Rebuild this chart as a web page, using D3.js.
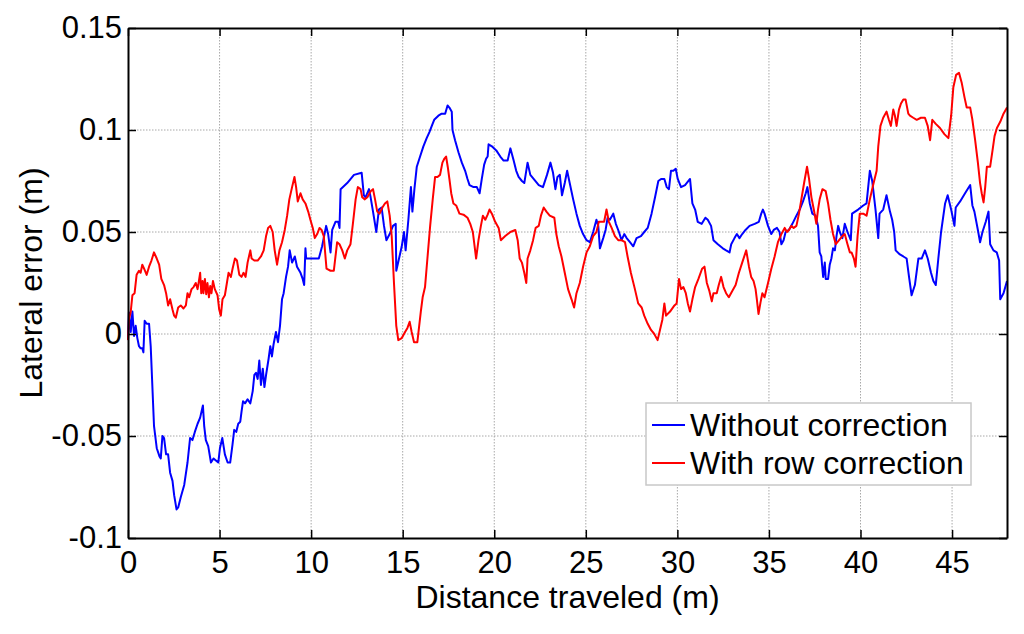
<!DOCTYPE html>
<html>
<head>
<meta charset="utf-8">
<script src="https://cdn.jsdelivr.net/npm/d3@7"></script>
<style>
  body { margin: 0; background: #fff; }
  svg text { font-family: "Liberation Sans", Arial, sans-serif; fill: #000; }
</style>
</head>
<body>
<div id="chart"></div>
<script>
// === Data: [distance (m), lateral error (m)] ===
const withoutCorrection = [[0,-0.003],[0.05,0.0106],[0.15,0.001],[0.24,0.011],[0.33,-0.001],[0.42,0.004],[0.51,-0.002],[0.6,-0.006],[0.69,-0.007],[0.78,-0.007],[0.84,-0.009],[0.91,0.0065],[1.02,0.005],[1.15,0.005],[1.24,-0.006],[1.42,-0.045],[1.57,-0.056],[1.72,-0.06],[1.79,-0.061],[1.88,-0.05],[1.97,-0.051],[2.08,-0.059],[2.19,-0.059],[2.3,-0.068],[2.43,-0.072],[2.52,-0.079],[2.65,-0.086],[2.74,-0.085],[2.88,-0.08],[3.07,-0.074],[3.25,-0.063],[3.39,-0.051],[3.52,-0.052],[3.65,-0.048],[3.8,-0.044],[3.94,-0.041],[4.09,-0.035],[4.16,-0.045],[4.25,-0.052],[4.38,-0.055],[4.53,-0.063],[4.67,-0.061],[4.8,-0.062],[4.93,-0.063],[5.02,-0.056],[5.15,-0.051],[5.29,-0.059],[5.44,-0.063],[5.58,-0.063],[5.71,-0.054],[5.8,-0.047],[5.91,-0.048],[6.02,-0.044],[6.13,-0.043],[6.2,-0.038],[6.28,-0.033],[6.39,-0.034],[6.53,-0.032],[6.68,-0.034],[6.81,-0.028],[6.9,-0.02],[6.99,-0.019],[7.08,-0.022],[7.17,-0.013],[7.26,-0.025],[7.36,-0.017],[7.45,-0.026],[7.54,-0.02],[7.68,-0.012],[7.77,-0.006],[7.86,-0.011],[7.95,-0.005],[8.08,0.001],[8.19,-0.004],[8.3,0.004],[8.41,0.017],[8.5,0.02],[8.63,0.028],[8.74,0.033],[8.83,0.041],[8.96,0.035],[9.11,0.038],[9.23,0.033],[9.42,0.03],[9.54,0.027],[9.62,0.024],[9.69,0.042],[9.73,0.037],[10.05,0.037],[10.42,0.037],[10.6,0.043],[10.82,0.053],[10.93,0.049],[11.06,0.04],[11.15,0.051],[11.33,0.055],[11.48,0.055],[11.55,0.052],[11.61,0.071],[11.97,0.074],[12.34,0.078],[12.76,0.079],[12.88,0.068],[12.97,0.067],[13.16,0.071],[13.25,0.067],[13.38,0.06],[13.56,0.05],[13.7,0.061],[13.85,0.062],[13.98,0.053],[14.11,0.046],[14.29,0.049],[14.47,0.053],[14.62,0.054],[14.65,0.031],[14.8,0.037],[14.95,0.043],[15.07,0.05],[15.16,0.041],[15.31,0.056],[15.45,0.072],[15.53,0.06],[15.64,0.071],[15.77,0.082],[15.95,0.087],[16.13,0.092],[16.31,0.096],[16.46,0.099],[16.59,0.102],[16.72,0.105],[16.95,0.107],[17.13,0.108],[17.32,0.108],[17.45,0.112],[17.55,0.111],[17.68,0.109],[17.72,0.1],[17.86,0.095],[18.05,0.089],[18.23,0.084],[18.41,0.08],[18.54,0.076],[18.65,0.073],[18.87,0.072],[19.05,0.072],[19.2,0.069],[19.32,0.076],[19.45,0.083],[19.56,0.086],[19.64,0.087],[19.69,0.093],[19.87,0.092],[20.11,0.09],[20.33,0.087],[20.51,0.085],[20.73,0.085],[20.88,0.091],[21.06,0.085],[21.2,0.08],[21.33,0.077],[21.51,0.075],[21.64,0.074],[21.82,0.084],[21.97,0.078],[22.15,0.076],[22.43,0.073],[22.66,0.072],[22.88,0.078],[23.07,0.084],[23.21,0.079],[23.34,0.071],[23.45,0.077],[23.58,0.078],[23.7,0.068],[23.85,0.074],[23.98,0.08],[24.12,0.074],[24.31,0.066],[24.49,0.059],[24.67,0.053],[24.85,0.049],[25.04,0.046],[25.22,0.045],[25.4,0.05],[25.58,0.056],[25.68,0.053],[25.77,0.042],[25.95,0.047],[26.08,0.051],[26.19,0.057],[26.31,0.056],[26.5,0.059],[26.64,0.054],[26.81,0.05],[26.95,0.046],[27.1,0.049],[27.23,0.047],[27.41,0.045],[27.59,0.043],[27.77,0.047],[28.01,0.048],[28.19,0.05],[28.38,0.052],[28.59,0.059],[28.78,0.067],[28.96,0.075],[29.11,0.076],[29.29,0.076],[29.42,0.072],[29.54,0.071],[29.65,0.08],[29.78,0.08],[29.91,0.081],[30.02,0.076],[30.2,0.072],[30.42,0.073],[30.69,0.076],[30.82,0.064],[30.97,0.061],[31.11,0.055],[31.33,0.054],[31.53,0.057],[31.66,0.056],[31.84,0.053],[31.97,0.046],[32.21,0.044],[32.48,0.042],[32.66,0.041],[32.85,0.04],[32.94,0.044],[33.12,0.047],[33.25,0.049],[33.39,0.047],[33.54,0.049],[33.72,0.051],[33.94,0.053],[34.22,0.054],[34.45,0.055],[34.58,0.059],[34.67,0.061],[34.76,0.059],[34.95,0.053],[35.13,0.049],[35.26,0.051],[35.44,0.052],[35.58,0.05],[35.68,0.044],[35.8,0.046],[35.91,0.05],[36.09,0.051],[36.28,0.054],[36.5,0.058],[36.68,0.061],[36.86,0.065],[37.01,0.069],[37.1,0.072],[37.23,0.064],[37.37,0.059],[37.55,0.058],[37.68,0.053],[37.77,0.04],[37.86,0.038],[37.96,0.028],[38.05,0.035],[38.1,0.027],[38.23,0.027],[38.32,0.034],[38.41,0.037],[38.5,0.042],[38.6,0.041],[38.69,0.048],[38.78,0.053],[38.87,0.05],[39.01,0.047],[39.14,0.054],[39.29,0.05],[39.47,0.046],[39.54,0.059],[39.87,0.061],[40.15,0.063],[40.33,0.064],[40.51,0.08],[40.64,0.075],[40.82,0.061],[40.97,0.047],[41.04,0.059],[41.24,0.061],[41.42,0.068],[41.61,0.06],[41.73,0.056],[41.84,0.05],[41.92,0.041],[42.15,0.039],[42.34,0.038],[42.52,0.037],[42.65,0.028],[42.79,0.019],[42.97,0.024],[43.16,0.037],[43.34,0.037],[43.52,0.041],[43.67,0.037],[43.85,0.03],[43.98,0.026],[44.11,0.024],[44.25,0.037],[44.4,0.05],[44.62,0.064],[44.76,0.068],[44.95,0.061],[45.13,0.053],[45.2,0.062],[45.44,0.065],[45.71,0.069],[45.99,0.073],[46.11,0.063],[46.22,0.06],[46.41,0.051],[46.53,0.045],[46.66,0.05],[46.84,0.055],[46.99,0.06],[47.08,0.044],[47.26,0.041],[47.44,0.04],[47.57,0.036],[47.63,0.017],[47.81,0.02],[48,0.026]];

const withRowCorrection = [[0,-0.003],[0.05,0.007],[0.15,0.011],[0.24,0.019],[0.36,0.02],[0.47,0.029],[0.6,0.031],[0.69,0.03],[0.78,0.034],[0.88,0.032],[1.02,0.029],[1.15,0.033],[1.28,0.036],[1.42,0.04],[1.57,0.037],[1.7,0.034],[1.82,0.027],[1.97,0.024],[2.08,0.02],[2.19,0.014],[2.3,0.017],[2.43,0.012],[2.52,0.009],[2.61,0.008],[2.74,0.013],[2.88,0.014],[3.03,0.0125],[3.16,0.014],[3.25,0.02],[3.34,0.018],[3.47,0.022],[3.58,0.023],[3.7,0.025],[3.8,0.022],[3.89,0.027],[3.94,0.03],[4,0.02],[4.07,0.026],[4.12,0.02],[4.2,0.027],[4.27,0.0195],[4.34,0.025],[4.42,0.018],[4.49,0.0235],[4.56,0.02],[4.64,0.026],[4.74,0.022],[4.89,0.019],[4.98,0.012],[5.07,0.009],[5.16,0.017],[5.29,0.019],[5.4,0.025],[5.49,0.03],[5.62,0.028],[5.71,0.032],[5.84,0.037],[5.95,0.036],[6.08,0.029],[6.2,0.028],[6.31,0.03],[6.42,0.028],[6.53,0.035],[6.68,0.041],[6.75,0.037],[6.9,0.036],[7.08,0.036],[7.26,0.038],[7.41,0.041],[7.54,0.048],[7.65,0.052],[7.77,0.053],[7.9,0.05],[8.01,0.041],[8.14,0.034],[8.27,0.041],[8.41,0.045],[8.56,0.051],[8.69,0.058],[8.81,0.066],[8.96,0.072],[9.09,0.077],[9.18,0.072],[9.27,0.065],[9.42,0.069],[9.54,0.066],[9.69,0.064],[9.84,0.06],[9.96,0.056],[10.09,0.052],[10.2,0.047],[10.33,0.049],[10.46,0.052],[10.57,0.051],[10.69,0.048],[10.84,0.032],[11.06,0.031],[11.24,0.031],[11.33,0.038],[11.42,0.045],[11.55,0.044],[11.7,0.041],[11.84,0.037],[11.97,0.041],[12.15,0.044],[12.28,0.054],[12.43,0.066],[12.55,0.072],[12.7,0.071],[12.79,0.067],[12.92,0.066],[13.07,0.067],[13.25,0.07],[13.38,0.071],[13.49,0.066],[13.61,0.06],[13.74,0.059],[13.89,0.062],[14.03,0.064],[14.16,0.065],[14.29,0.058],[14.4,0.048],[14.53,0.024],[14.65,0.004],[14.76,-0.003],[14.95,-0.002],[15.13,0.001],[15.26,0.003],[15.38,0.006],[15.49,0.001],[15.62,-0.004],[15.8,-0.004],[15.99,0.011],[16.09,0.018],[16.22,0.023],[16.35,0.037],[16.5,0.053],[16.64,0.066],[16.77,0.077],[16.9,0.077],[17.04,0.078],[17.17,0.084],[17.28,0.086],[17.37,0.087],[17.46,0.082],[17.55,0.076],[17.65,0.069],[17.77,0.064],[17.92,0.063],[18.1,0.059],[18.32,0.0585],[18.54,0.057],[18.69,0.054],[18.83,0.05],[19.01,0.037],[19.14,0.046],[19.27,0.053],[19.38,0.058],[19.51,0.056],[19.64,0.0585],[19.74,0.061],[19.87,0.059],[20.05,0.055],[20.24,0.052],[20.36,0.046],[20.6,0.048],[20.88,0.05],[21.15,0.051],[21.28,0.046],[21.39,0.037],[21.51,0.035],[21.64,0.03],[21.75,0.025],[21.82,0.037],[21.97,0.041],[22.12,0.046],[22.26,0.052],[22.43,0.053],[22.55,0.058],[22.7,0.062],[22.85,0.06],[23.03,0.058],[23.28,0.057],[23.39,0.049],[23.52,0.043],[23.67,0.038],[23.85,0.03],[24.03,0.022],[24.22,0.017],[24.36,0.013],[24.49,0.02],[24.67,0.025],[24.85,0.033],[25.04,0.04],[25.22,0.043],[25.4,0.048],[25.58,0.05],[25.71,0.055],[25.86,0.055],[26,0.055],[26.13,0.061],[26.26,0.055],[26.41,0.052],[26.59,0.048],[26.77,0.046],[26.95,0.046],[27.14,0.045],[27.28,0.038],[27.46,0.03],[27.68,0.022],[27.86,0.015],[28.05,0.013],[28.19,0.009],[28.38,0.005],[28.56,0.002],[28.74,0],[28.92,-0.003],[29.05,0.002],[29.18,0.007],[29.29,0.015],[29.38,0.009],[29.6,0.011],[29.84,0.014],[29.96,0.015],[30.09,0.027],[30.2,0.022],[30.33,0.023],[30.46,0.02],[30.57,0.015],[30.69,0.011],[30.82,0.017],[30.97,0.023],[31.15,0.027],[31.35,0.032],[31.48,0.033],[31.61,0.025],[31.75,0.021],[31.88,0.016],[31.97,0.02],[32.15,0.02],[32.26,0.024],[32.39,0.028],[32.52,0.023],[32.66,0.02],[32.81,0.018],[32.99,0.021],[33.18,0.024],[33.36,0.03],[33.54,0.035],[33.76,0.041],[33.91,0.033],[34.03,0.028],[34.16,0.026],[34.27,0.022],[34.34,0.017],[34.43,0.0098],[34.54,0.0155],[34.64,0.02],[34.76,0.018],[34.95,0.025],[35.13,0.032],[35.31,0.038],[35.49,0.045],[35.68,0.049],[35.86,0.052],[35.99,0.05],[36.09,0.051],[36.22,0.053],[36.35,0.052],[36.5,0.053],[36.64,0.059],[36.77,0.066],[36.92,0.074],[37.08,0.082],[37.19,0.076],[37.32,0.067],[37.45,0.061],[37.59,0.054],[37.68,0.061],[37.77,0.066],[37.92,0.071],[38.1,0.07],[38.23,0.064],[38.36,0.056],[38.5,0.049],[38.65,0.044],[38.83,0.046],[39.01,0.048],[39.14,0.049],[39.29,0.044],[39.42,0.04],[39.51,0.04],[39.64,0.037],[39.73,0.033],[39.84,0.048],[39.96,0.059],[40.15,0.059],[40.33,0.058],[40.51,0.066],[40.69,0.073],[40.88,0.08],[40.97,0.092],[41.09,0.102],[41.24,0.106],[41.42,0.109],[41.55,0.105],[41.66,0.102],[41.79,0.11],[41.88,0.107],[41.97,0.102],[42.1,0.11],[42.21,0.113],[42.34,0.115],[42.46,0.115],[42.61,0.108],[42.7,0.107],[42.88,0.106],[43.07,0.105],[43.3,0.106],[43.52,0.106],[43.67,0.102],[43.8,0.095],[43.92,0.105],[44.11,0.103],[44.34,0.101],[44.58,0.098],[44.8,0.096],[44.95,0.107],[45.07,0.121],[45.22,0.127],[45.38,0.128],[45.53,0.123],[45.68,0.116],[45.8,0.111],[45.99,0.111],[46.11,0.105],[46.26,0.095],[46.41,0.084],[46.53,0.074],[46.62,0.069],[46.72,0.0645],[46.81,0.072],[46.9,0.082],[47.08,0.082],[47.21,0.09],[47.32,0.097],[47.45,0.101],[47.63,0.104],[47.81,0.108],[48,0.111]];

const xTicks = [0, 5, 10, 15, 20, 25, 30, 35, 40, 45];
const yTicks = [-0.1, -0.05, 0, 0.05, 0.1, 0.15];
const yTickLabels = ["-0.1", "-0.05", "0", "0.05", "0.1", "0.15"];
const seriesNames = ["Without correction", "With row correction"];
const seriesColors = ["#0000ff", "#ff0000"];

const svgWidth = 1024, svgHeight = 634;
const margin = { top: 28, right: 17, bottom: 96, left: 128 };
const width = svgWidth - margin.left - margin.right;
const height = svgHeight - margin.top - margin.bottom;

const svg = d3.select("#chart").append("svg")
    .attr("width", svgWidth)
    .attr("height", svgHeight);

const g = svg.append("g")
    .attr("transform", `translate(${margin.left},${margin.top})`);

const x = d3.scaleLinear().domain([0, 48]).range([0, width]);
const y = d3.scaleLinear().domain([-0.1, 0.15]).range([height, 0]);

// dotted grid
const grid = g.append("g").attr("stroke", "#a8a8a8").attr("stroke-width", 1).attr("stroke-dasharray", "1.5,1.5");
grid.selectAll(".gx").data(xTicks.slice(1)).join("line")
    .attr("x1", d => x(d)).attr("x2", d => x(d)).attr("y1", 0).attr("y2", height);
grid.selectAll(".gy").data(yTicks.slice(1, -1)).join("line")
    .attr("x1", 0).attr("x2", width).attr("y1", d => y(d)).attr("y2", d => y(d));

// data lines
const line = d3.line().x(d => x(d[0])).y(d => y(d[1]));
[withoutCorrection, withRowCorrection].forEach((s, i) => {
    g.append("path").datum(s)
        .attr("fill", "none")
        .attr("stroke", seriesColors[i])
        .attr("stroke-width", 2)
        .attr("stroke-linejoin", "round")
        .attr("d", line);
});

// axes with inward ticks, box on
const fmtY = d => yTickLabels[yTicks.indexOf(d)];
const axisStyle = sel => {
    sel.select(".domain").attr("stroke", "#000").attr("stroke-width", 2);
    sel.selectAll(".tick line").attr("stroke", "#000").attr("stroke-width", 1.5);
    sel.selectAll("text").style("font-size", "31px").attr("fill", "#000");
};
g.append("g").attr("transform", `translate(0,${height})`)
    .call(d3.axisBottom(x).tickValues(xTicks).tickSize(-8).tickPadding(13).tickSizeOuter(0))
    .call(axisStyle);
g.append("g")
    .call(d3.axisTop(x).tickValues(xTicks).tickSize(-8).tickSizeOuter(0).tickFormat(""))
    .call(axisStyle);
g.append("g")
    .call(d3.axisLeft(y).tickValues(yTicks).tickSize(-8).tickPadding(6).tickSizeOuter(0).tickFormat(fmtY))
    .call(axisStyle);
g.append("g").attr("transform", `translate(${width},0)`)
    .call(d3.axisRight(y).tickValues(yTicks).tickSize(-8).tickSizeOuter(0).tickFormat(""))
    .call(axisStyle);

// axis titles
svg.append("text")
    .attr("x", margin.left + width / 2).attr("y", 608)
    .attr("text-anchor", "middle").style("font-size", "32px")
    .text("Distance traveled (m)");
svg.append("text")
    .attr("transform", `translate(42,${margin.top + height / 2}) rotate(-90)`)
    .attr("text-anchor", "middle").style("font-size", "32px")
    .text("Lateral error (m)");

// legend
const legend = svg.append("g").attr("transform", "translate(646,403)");
legend.append("rect").attr("width", 325).attr("height", 82)
    .attr("fill", "#fff").attr("stroke", "#c8c8c8").attr("stroke-width", 1.5);
seriesNames.forEach((name, i) => {
    const row = legend.append("g").attr("transform", `translate(0,${22 + i * 38})`);
    row.append("line").attr("x1", 6).attr("x2", 39)
        .attr("stroke", seriesColors[i]).attr("stroke-width", 2);
    row.append("text").attr("x", 44).attr("y", 11)
        .style("font-size", "32px").text(name);
});
</script>
</body>
</html>
